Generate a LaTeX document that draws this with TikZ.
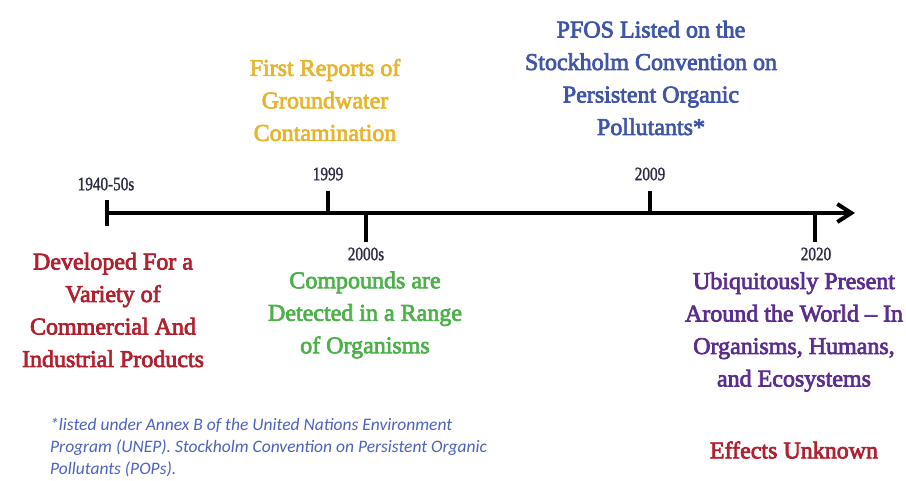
\documentclass[tikz,border=0pt]{standalone}
\usepackage{fontspec}
\setmainfont{Liberation Serif}
\newfontfamily\evtfont{Liberation Serif}[FakeBold=3]
\newfontfamily\yrfont{Liberation Serif}[FakeBold=1.5]
\newfontfamily\notefont{Carlito}[ItalicFont={Carlito Italic}]
\usetikzlibrary{arrows.meta}
\definecolor{cred}{HTML}{B0202E}
\definecolor{cyellow}{HTML}{E8B42C}
\definecolor{cblue}{HTML}{3E55A8}
\definecolor{cgreen}{HTML}{4DB04A}
\definecolor{cpurple}{HTML}{5B2D8E}
\definecolor{cnote}{HTML}{4A62C0}
\definecolor{cyear}{HTML}{2C2C44}
\newcommand{\yrtext}[1]{\scalebox{0.8}[1]{#1}}
\begin{document}
\begin{tikzpicture}[x=1pt,y=-1pt,
  evt/.style={align=center,font=\evtfont\fontsize{24}{32.5}\selectfont,inner sep=0pt},
  yr/.style={font=\yrfont\fontsize{19}{20}\selectfont,text=cyear,inner sep=0pt},
  axisline/.style={line width=4.5pt},
  tickline/.style={line width=3.5pt}]
\useasboundingbox (0,0) rectangle (906,480);
\coordinate (a0) at (106,213);
\coordinate (a1) at (855,213);
\draw[axisline,-{Straight Barb[length=14pt,width=18pt,line width=4pt]}] (a0) -- (a1);
\draw[tickline] (107,200) coordinate (l0t) -- (107,226) coordinate (l0b);
\coordinate (t99) at (328,213);
\coordinate (t00) at (366,213);
\coordinate (t09) at (650,213);
\coordinate (t20) at (815,213);
\draw[tickline] (t99) -- ++(0,-22) coordinate (t99e);
\draw[tickline] (t09) -- ++(0,-22) coordinate (t09e);
\draw[tickline] (t00) -- ++(0,29) coordinate (t00e);
\draw[tickline] (t20) -- ++(0,29) coordinate (t20e);
\node[yr] (y40) at (106,184) {\yrtext{1940-50s}};
\node[yr] (y99) at (328,174) {\yrtext{1999}};
\node[yr] (y09) at (650,174) {\yrtext{2009}};
\node[yr] (y00) at (366,254) {\yrtext{2000s}};
\node[yr] (y20) at (816,254) {\yrtext{2020}};
\node[evt,text=cyellow] (e99) at (325,100) {First Reports of\\Groundwater\\Contamination};
\node[evt,text=cblue] (e09) at (651,78) {PFOS Listed on the\\Stockholm Convention on\\Persistent Organic\\Pollutants*};
\node[evt,text=cred] (e40) at (113,310) {Developed For a\\Variety of\\Commercial And\\Industrial Products};
\node[evt,text=cgreen] (e00) at (365,315) {Compounds are\\Detected in a Range\\of Organisms};
\node[evt,text=cpurple] (e20) at (794,332) {Ubiquitously Present\\Around the World – In\\Organisms, Humans,\\and Ecosystems};
\node[evt,text=cred] (eff) at (794,450) {Effects Unknown};
\node[anchor=north west,align=left,text=cnote,inner sep=0pt,font=\notefont\itshape\fontsize{17.5}{22}\selectfont] (note) at (50,418) {*listed under Annex B of the United Nations Environment\\Program (UNEP). Stockholm Convention on Persistent Organic\\Pollutants (POPs).};
\end{tikzpicture}
\end{document}
